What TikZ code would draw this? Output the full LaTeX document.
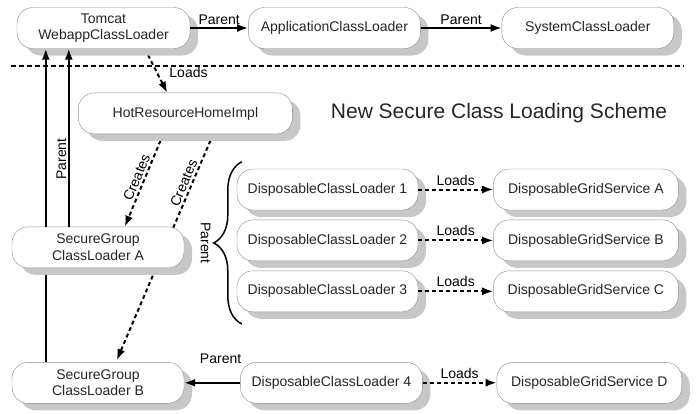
\documentclass[tikz,border=0pt]{standalone}
\usepackage{fontspec}
\setmainfont{Liberation Sans}
\usetikzlibrary{arrows.meta,positioning,shadows,calc,backgrounds,decorations.pathreplacing}

\begin{document}
\begin{tikzpicture}[x=1pt,y=-1pt,>={Latex[length=11pt,width=8pt]},
        font=\fontsize{14}{16.5}\selectfont]
        \tikzset{block/.style={draw=black!45,
                fill=white,
                text=black!85,
                shape=rectangle,
                align=center,
                rounded corners=16pt,
                minimum width=172pt,
                minimum height=41pt,
                inner sep=2pt,
                drop shadow={shadow xshift=8pt,shadow yshift=-7pt,fill=black!22,opacity=1}
            },
            parentline/.style={draw,->,line width=2pt},
            loadsline/.style={draw,->,line width=2pt,dash pattern=on 4pt off 3pt},
        }
\useasboundingbox (0,0) rectangle (696,413);
        % top row: the tomcat loaders
        \node [block, minimum width=173pt] (tomcat) at (103.5,28)
            {Tomcat\\WebappClassLoader};
        \node [block, right =58pt of tomcat] (appcl)
            {ApplicationClassLoader};
        \node [block, right =81pt of appcl] (syscl)
            {SystemClassLoader};
        \draw [line width=2pt, dash pattern=on 5pt off 3pt] (11,66) -- (684,66);
        \node [block, minimum width=214pt, below right =44pt and -112pt of tomcat] (hotres)
            {HotResourceHomeImpl};
        \node [font=\fontsize{21}{24}\selectfont, text=black!85] (title) at (499,113)
            {New Secure Class Loading Scheme};
        % secure group loaders
        \node [block, below =178pt of tomcat, xshift=-5.5pt] (secA)
            {SecureGroup\\ClassLoader A};
        \node [block, below =94pt of secA] (secB)
            {SecureGroup\\ClassLoader B};
        % disposable loaders and services
        \node [block, minimum width=181pt] (dcl1) at (327.5,189.5)
            {DisposableClassLoader 1};
        \node [block, minimum width=181pt, below =9.5pt of dcl1] (dcl2)
            {DisposableClassLoader 2};
        \node [block, minimum width=181pt, below =9.5pt of dcl2] (dcl3)
            {DisposableClassLoader 3};
        \node [block, minimum width=185pt, right =75pt of dcl1] (dgsA)
            {DisposableGridService A};
        \node [block, minimum width=185pt, right =75pt of dcl2] (dgsB)
            {DisposableGridService B};
        \node [block, minimum width=185pt, right =75pt of dcl3] (dgsC)
            {DisposableGridService C};
        \node [block, minimum width=182pt, right =56pt of secB] (dcl4)
            {DisposableClassLoader 4};
        \node [block, minimum width=185pt, right =74pt of dcl4] (dgsD)
            {DisposableGridService D};
        \coordinate (pB) at ([xshift=34pt]secB.north west);
        \coordinate (pA) at ([xshift=57pt]secA.north west);
        \coordinate (braceTop) at ([xshift=5pt,yshift=7pt]dcl1.north west);
        \coordinate (braceBot) at ([xshift=5pt,yshift=-12pt]dcl3.south west);
%% paths
\path[parentline]
    (tomcat) edge node[above=-1pt] {Parent} (appcl)
    (appcl) edge node[above=-1pt] {Parent} (syscl)
    (dcl4) edge node[pos=0.35, above=15pt] {Parent} (secB)
;
\draw[parentline] (pA) -- node[pos=0.38, anchor=south, rotate=90, inner sep=1.5pt] {Parent} (pA |- tomcat.south);
\draw[parentline] (pB |- secA.north) -- (pB |- tomcat.south);
\path[loadsline]
    (dcl1) edge node[above] {Loads} (dgsA)
    (dcl2) edge node[above] {Loads} (dgsB)
    (dcl3) edge node[above] {Loads} (dgsC)
    (dcl4) edge node[above] {Loads} (dgsD)
;
\draw[line width=1.5pt, decorate, decoration={brace, amplitude=28pt}]
    (braceBot) -- (braceTop);
\node [rotate=-90, anchor=north, inner sep=2pt] (braceLbl)
    at ($(braceTop)!0.5!(braceBot)+(-29,0)$) {Parent};
\begin{scope}[on background layer]
    \draw[line width=2pt] (pB) -- (pB |- secA.center);
    \draw[loadsline] ([xshift=128pt]tomcat.south west) -- node[right=8pt, pos=0.55] {Loads} ([xshift=89pt]hotres.north west);
    \draw[loadsline] ([xshift=85pt]hotres.south west) -- node[sloped, above, inner sep=2pt] {Creates} ([xshift=113pt]secA.north west);
    \draw[loadsline] ([xshift=135pt]hotres.south west) -- node[sloped, above, pos=0.23, inner sep=2pt] {Creates} ([xshift=105pt,yshift=2pt]secB.north west);
\end{scope}
\end{tikzpicture}
\end{document}
